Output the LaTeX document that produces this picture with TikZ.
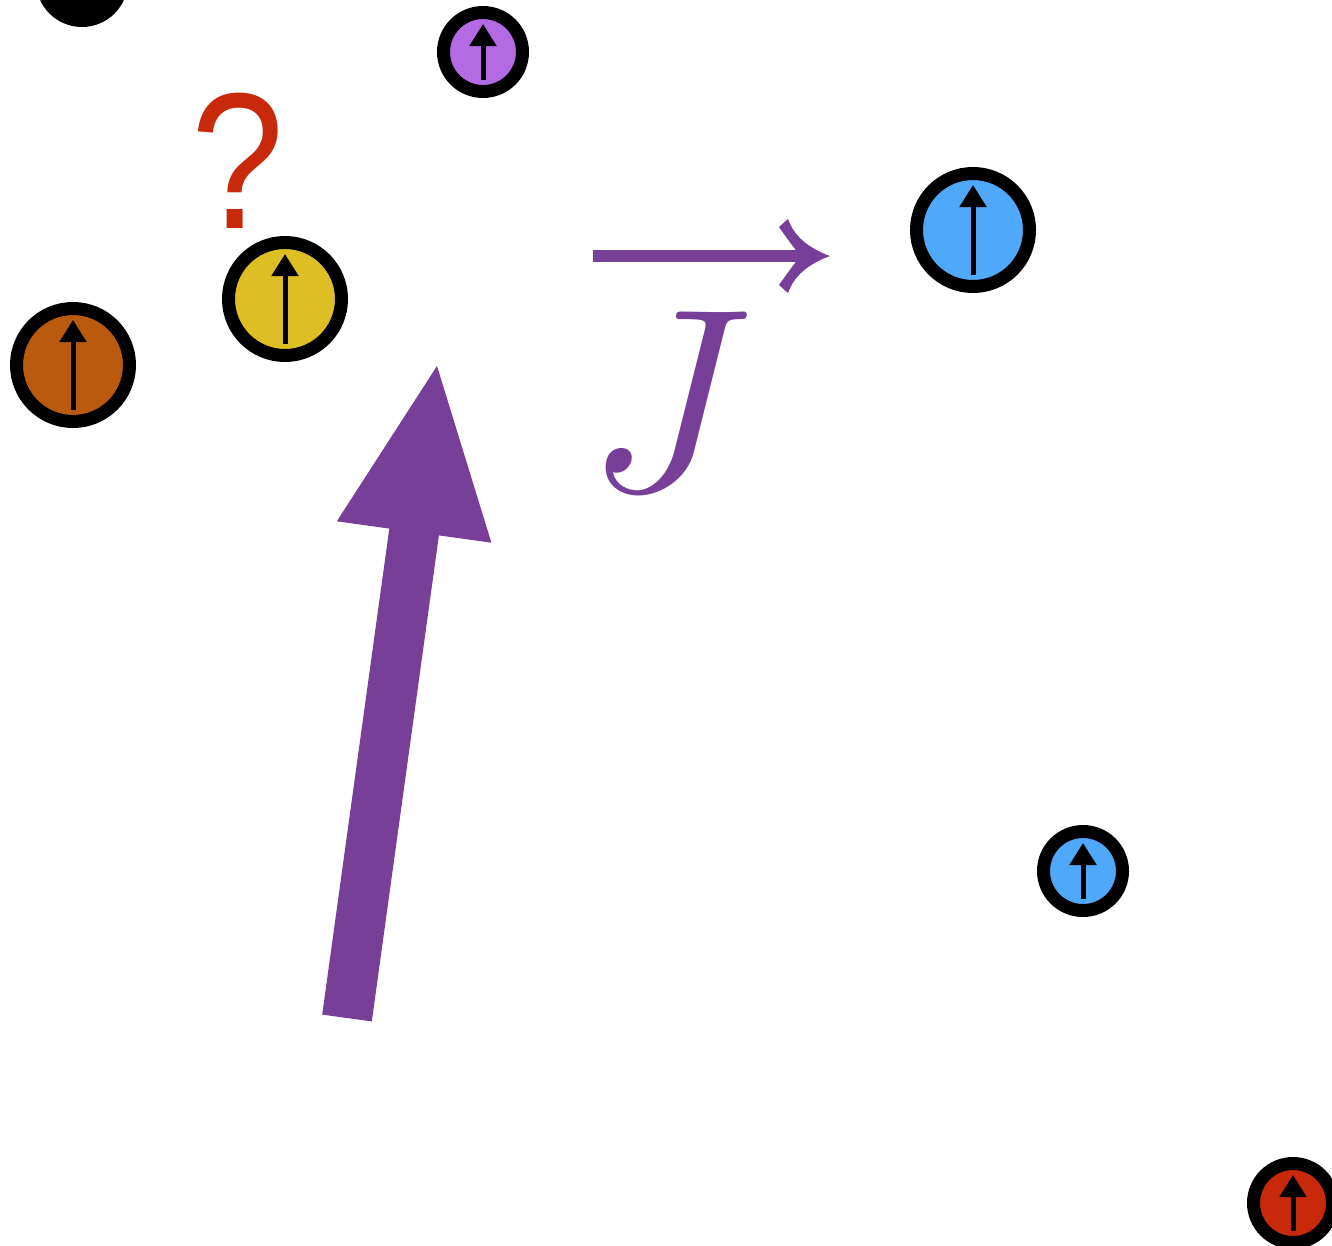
\documentclass[tikz,border=0pt]{standalone}
\usepackage{fontspec}
\newfontfamily\qfont{Liberation Sans}
\usetikzlibrary{arrows.meta}
\definecolor{jpurple}{HTML}{783F99}
\definecolor{spinpurple}{HTML}{B36AE2}
\definecolor{spinyellow}{HTML}{DDBF25}
\definecolor{spinorange}{HTML}{BA5A0E}
\definecolor{spinblue}{HTML}{4FA8FA}
\definecolor{spinred}{HTML}{C8290A}
\definecolor{qred}{HTML}{C8290A}
\newcommand\spinnode[5]{%
  \node[spin, fill=#5, minimum size={(2*#4-13)*1pt}] (#1) at (#2,#3) {};
  \draw[spinarrow] (#2,{#3+#4-18}) -- (#2,{#3-#4+18});
}
\begin{document}
\begin{tikzpicture}[x=1pt,y=-1pt,
  spin/.style={circle, draw=black, line width=13pt, inner sep=0pt, outer sep=0pt},
  spinarrow/.style={line width=5pt, -{Triangle[length=22pt,width=26pt]}}]
\useasboundingbox (0,0) rectangle (1332,1245);
\clip (0,0) rectangle (1332,1245);
% partial black spin at top-left
\fill[black] (82,-19) circle (46);
% spins
\spinnode{purple}{483}{52}{46}{spinpurple}
\spinnode{yellow}{285}{299}{63}{spinyellow}
\spinnode{orange}{73}{365}{63}{spinorange}
\spinnode{bluebig}{973}{230}{63}{spinblue}
\spinnode{bluesmall}{1083}{871}{46}{spinblue}
\spinnode{red}{1293}{1203}{46}{spinred}
% question mark
\node[anchor=base, inner sep=0pt, text=qred, xscale=0.86, font=\qfont\fontsize{194}{194}\selectfont] (qmark) at (238,228) {?};
% J with arrow
\node[anchor=base west, inner sep=0pt, text=jpurple, scale=12.6, font=\fontsize{20}{20}\selectfont] (J) at (583,490) {$J$};
\draw[jpurple, line width=12pt] (593,256) -- (805,256);
\fill[jpurple] (830,256) .. controls (808,248) and (794,236) .. (788,219)
  -- (779,227) .. controls (788,240) and (796,250) .. (800,256)
  .. controls (796,262) and (788,272) .. (779,285)
  -- (788,293) .. controls (794,276) and (808,264) .. (830,256) -- cycle;
% big purple arrow
\coordinate (tail) at (347,1018);
\coordinate (tip) at (437,366);
\fill[jpurple] (322.2,1014.6) -- (389.3,528.6) -- (336.8,521.3) -- (tip)
  -- (491.4,542.7) -- (438.9,535.4) -- (371.8,1021.4) -- cycle;
\end{tikzpicture}
\end{document}
